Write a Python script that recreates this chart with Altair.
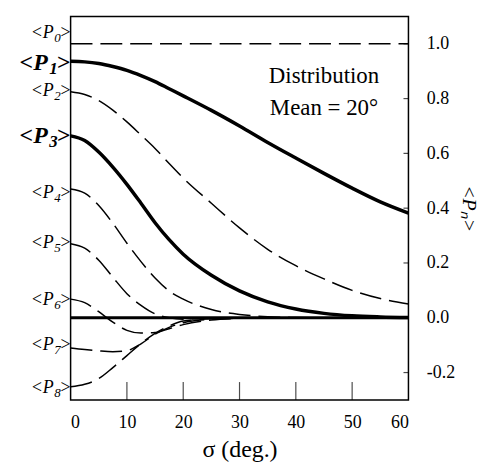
import altair as alt
import pandas as pd

sigma = [0, 2.5, 5, 7.5, 10, 12.5, 15, 17.5, 20, 25, 30, 35, 40, 45, 50, 55, 60]

p0 = [1.0, 1.0, 1.0, 1.0, 1.0, 1.0, 1.0, 1.0, 1.0, 1.0, 1.0, 1.0, 1.0, 1.0, 1.0, 1.0, 1.0]
p1 = [0.936, 0.934, 0.928, 0.917, 0.903, 0.884, 0.862, 0.836, 0.81, 0.757, 0.70, 0.64, 0.583, 0.527, 0.473, 0.423, 0.382]
p2 = [0.825, 0.815, 0.793, 0.758, 0.715, 0.667, 0.618, 0.563, 0.51, 0.418, 0.328, 0.25, 0.19, 0.142, 0.10, 0.07, 0.05]
p3 = [0.664, 0.647, 0.605, 0.55, 0.487, 0.418, 0.347, 0.285, 0.232, 0.155, 0.098, 0.058, 0.032, 0.016, 0.007, 0.003, 0.001]
p4 = [0.47, 0.455, 0.41, 0.345, 0.272, 0.205, 0.145, 0.098, 0.068, 0.03, 0.012, 0.004, 0.001, 0.0, 0.0, 0.0, 0.0]
p5 = [0.27, 0.254, 0.21, 0.148, 0.088, 0.045, 0.014, 0.0, -0.005, -0.004, -0.001, 0.0, 0.0, 0.0, 0.0, 0.0, 0.0]
p6 = [0.068, 0.055, 0.022, -0.016, -0.046, -0.056, -0.054, -0.04, -0.025, -0.008, -0.002, 0.0, 0.0, 0.0, 0.0, 0.0, 0.0]
p7 = [-0.11, -0.116, -0.121, -0.124, -0.12, -0.095, -0.06, -0.035, -0.018, -0.005, -0.001, 0.0, 0.0, 0.0, 0.0, 0.0, 0.0]
p8 = [-0.252, -0.243, -0.222, -0.182, -0.138, -0.094, -0.057, -0.03, -0.012, -0.003, 0.0, 0.0, 0.0, 0.0, 0.0, 0.0, 0.0]

thick_series = {"P1": p1, "P3": p3}
dashed_series = {"P0": p0, "P2": p2, "P4": p4, "P5": p5, "P6": p6, "P7": p7, "P8": p8}

label_sub = ["0", "1", "2", "3", "4", "5", "6", "7", "8"]
label_y = [1.04, 0.93, 0.827, 0.664, 0.457, 0.271, 0.064, -0.10, -0.256]
label_bold = [False, True, False, True, False, False, False, False, False]

x_ticks = [0, 10, 20, 30, 40, 50, 60]
x_inner_ticks = [10, 20, 30, 40, 50]
y_ticks = [-0.2, 0.0, 0.2, 0.4, 0.6, 0.8, 1.0]
zero = [0.0]

FONT = "Liberation Serif, Times New Roman, serif"
W, H = 340, 386


def long_df(d):
    rows = []
    for name, vals in d.items():
        for s, v in zip(sigma, vals):
            rows.append({"series": name, "sigma": s, "value": v})
    return pd.DataFrame(rows)


xs = alt.Scale(domain=[0, 60], nice=False, zero=False)
ys = alt.Scale(domain=[-0.3, 1.1], nice=False, zero=False)

x_axis = alt.Axis(values=x_ticks, ticks=False, domain=False, grid=False,
                  labelFont=FONT, labelFontSize=18, labelColor="black", labelPadding=14,
                  title="σ (deg.)", titleFont=FONT, titleFontSize=24,
                  titleFontWeight="normal", titleColor="black", titlePadding=6)
y_axis = alt.Axis(orient="right", values=y_ticks, ticks=False, domain=False,
                  labelExpr="replace(format(datum.value, '.1f'), '\u2212', '-')",
                  grid=False, labelFont=FONT, labelFontSize=18, labelColor="black",
                  labelPadding=18, labelAlign="left", labelBaseline="middle",
                  title="<Pₙ>", titleFont=FONT, titleFontSize=20, titleFontStyle="italic",
                  titleFontWeight="normal", titleColor="black", titlePadding=4)


def X(field):
    return alt.X(field, scale=xs, axis=x_axis)


def Y(field):
    return alt.Y(field, scale=ys, axis=y_axis)


dashed = alt.Chart(long_df(dashed_series)).mark_line(
    color="black", strokeWidth=1.5, strokeDash=[22, 8], interpolate="monotone", clip=True
).encode(x=X("sigma:Q"), y=Y("value:Q"), detail="series:N")

thick = alt.Chart(long_df(thick_series)).mark_line(
    color="black", strokeWidth=3.5, interpolate="monotone", clip=True
).encode(x=X("sigma:Q"), y=Y("value:Q"), detail="series:N")

zero_line = alt.Chart(pd.DataFrame({"y": zero})).mark_rule(
    color="black", strokeWidth=3
).encode(y=Y("y:Q"))

xt = alt.Chart(pd.DataFrame({"x": x_inner_ticks})).mark_tick(
    color="black", orient="vertical", size=18, thickness=1.2
).encode(x=X("x:Q"), y=alt.value(H - 9))

yt = alt.Chart(pd.DataFrame({"y": y_ticks})).mark_tick(
    color="black", orient="horizontal", size=5, thickness=1.2
).encode(y=Y("y:Q"), x=alt.value(W - 2.5))

lab_df = pd.DataFrame({"s": label_sub, "y": label_y, "b": label_bold})
norm_df = lab_df[~lab_df.b]
bold_df = lab_df[lab_df.b]


def label_layers(df, size, weight, gt_w, sub_w, sub_size, sub_dy):
    base = alt.Chart(df)
    common = dict(font=FONT, align="right", baseline="middle", color="black", fontWeight=weight)
    gt = base.mark_text(text=">", fontSize=size, dx=0, **common).encode(
        y=Y("y:Q"), x=alt.value(0))
    sub = base.mark_text(fontSize=sub_size, fontStyle="italic", dx=-gt_w, dy=sub_dy, **common).encode(
        y=Y("y:Q"), x=alt.value(0), text="s:N")
    lp = base.mark_text(text="<P", fontSize=size, fontStyle="italic", dx=-(gt_w + sub_w), **common).encode(
        y=Y("y:Q"), x=alt.value(0))
    return [gt, sub, lp]


layers_norm = label_layers(norm_df, 18, "normal", 10, 7, 13, 5)
layers_bold = label_layers(bold_df, 24, "bold", 13, 10, 17, 6)

note = alt.Chart(pd.DataFrame({"t": ["Distribution", "Mean = 20°"], "y": [0.882, 0.767]})).mark_text(
    font=FONT, fontSize=23, align="center", baseline="middle", color="black"
).encode(x=alt.datum(45, scale=xs), y=Y("y:Q"), text="t:N")

chart = alt.layer(dashed, thick, zero_line, xt, yt, *layers_norm, *layers_bold, note).properties(
    width=W, height=H, padding={"left": 11, "top": 7, "right": 0, "bottom": 0},
    background="white"
).configure_view(stroke="black", strokeWidth=1.5)

chart.save("out.html", embed_options={"renderer": "svg", "actions": False})
